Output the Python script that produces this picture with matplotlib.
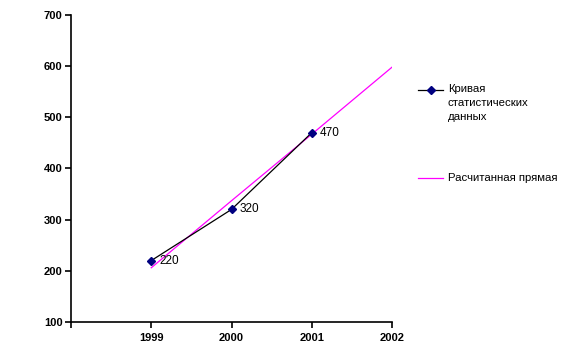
import matplotlib
matplotlib.use("Agg")
import matplotlib.pyplot as plt
from matplotlib.lines import Line2D

plt.rcParams['font.family'] = ['Liberation Sans', 'DejaVu Sans']

years = [1999, 2000, 2001]
values = [220, 320, 470]
fit_years = [1999, 2000, 2001, 2002]
fit_values = [206, 337, 467, 598]
x_ticks = [1998, 1999, 2000, 2001, 2002]
x_labels = ["", "1999", "2000", "2001", "2002"]
y_ticks = [100, 200, 300, 400, 500, 600, 700]
legend_labels = ["Кривая\nстатистических\nданных", "Расчитанная прямая"]

fig = plt.figure(figsize=(5.8, 3.64), dpi=100)
ax = fig.add_axes([71/580, 1-322/364, (392-71)/580, (322-15)/364])

ax.plot(fit_years, fit_values, color='#FF00FF', lw=0.9, zorder=2)
ax.plot(years, values, color='black', lw=0.9, marker='D', markersize=4.5,
        markerfacecolor='#000080', markeredgecolor='#000080', zorder=3)
for x, v in zip(years, values):
    ax.annotate(str(v), (x, v), xytext=(6, 0), textcoords='offset points',
                va='center', ha='left', fontsize=8.5, color='black')

ax.set_xlim(1998, 2002)
ax.set_ylim(100, 700)
ax.set_xticks(x_ticks)
ax.set_xticklabels(x_labels)
ax.set_yticks(y_ticks)
for s in ['top', 'right']:
    ax.spines[s].set_visible(False)
for s in ['left', 'bottom']:
    ax.spines[s].set_linewidth(1.2)
ax.tick_params(axis='both', direction='out', length=4, width=1.2,
               labelsize=8)
ax.tick_params(axis='x', pad=4)
ax.tick_params(axis='y', pad=2)
for lab in ax.get_xticklabels() + ax.get_yticklabels():
    lab.set_fontweight('bold')

# legend drawn manually
y1 = 1 - 90/364
fig.add_artist(Line2D([418/580, 443/580], [y1, y1], color='black', lw=0.9,
                      transform=fig.transFigure))
fig.add_artist(Line2D([430.5/580], [y1], marker='D', markersize=4.5, color='#000080',
                      transform=fig.transFigure))
fig.text(448/580, y1 + 6/364, legend_labels[0], fontsize=8.2, va='top', ha='left',
         linespacing=1.5)
y2 = 1 - 178/364
fig.add_artist(Line2D([418/580, 443/580], [y2, y2], color='#FF00FF', lw=0.9,
                      transform=fig.transFigure))
fig.text(448/580, y2, legend_labels[1], fontsize=8.2, va='center', ha='left')

fig.savefig('out.png', dpi=100)
